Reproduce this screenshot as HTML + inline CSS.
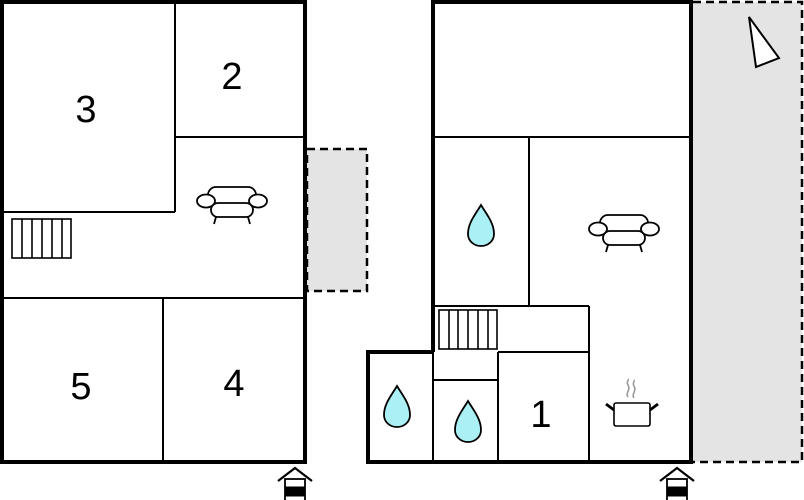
<!DOCTYPE html>
<html><head><style>html,body{margin:0;padding:0;background:#fff}svg{display:block}</style></head>
<body>
<svg width="804" height="500" viewBox="0 0 804 500" xmlns="http://www.w3.org/2000/svg" font-family="Liberation Sans, sans-serif">
<defs>
<g id="sofa" fill="#fff" stroke="#000" stroke-width="1.8">
<rect x="-24" y="-15" width="48" height="20" rx="8"/>
<rect x="-21" y="1" width="42" height="14" rx="7"/>
<ellipse cx="-26" cy="-1" rx="9" ry="6.5"/>
<ellipse cx="26" cy="-1" rx="9" ry="6.5"/>
<line x1="-16" y1="15" x2="-18" y2="22"/><line x1="16" y1="15" x2="18" y2="22"/>
</g>
<path id="drop" d="M0,-22 C-6,-12 -13,-4 -13,7 C-13,14 -7,19 0,19 C7,19 13,14 13,7 C13,-4 6,-12 0,-22Z" fill="#aaf0f4" stroke="#000" stroke-width="1.8"/>
<g id="ent" stroke="#000" fill="#fff">
<polyline points="-17,-3 0,-16 17,-3" fill="none" stroke-width="2.2"/>
<rect x="-10" y="-5" width="20" height="24" stroke-width="1.8"/>
<rect x="-10" y="3" width="20" height="9" fill="#000"/>
</g>
</defs>

<!-- left building -->
<rect x="307" y="149" width="60" height="142" fill="#e4e4e4" stroke="#000" stroke-width="2.5" stroke-dasharray="8,5"/>
<g stroke="#000" fill="none" stroke-width="2">
<line x1="175" y1="2" x2="175" y2="212"/>
<line x1="2" y1="212" x2="175" y2="212"/>
<line x1="175" y1="137" x2="305" y2="137"/>
<line x1="2" y1="298" x2="305" y2="298"/>
<line x1="163" y1="298" x2="163" y2="462"/>
</g>
<rect x="2" y="2" width="303" height="460" fill="none" stroke="#000" stroke-width="4"/>
<g stroke="#000" fill="none" stroke-width="1.6">
<rect x="12" y="219" width="59" height="39"/>
<line x1="22" y1="219" x2="22" y2="258"/><line x1="32" y1="219" x2="32" y2="258"/><line x1="42" y1="219" x2="42" y2="258"/><line x1="52" y1="219" x2="52" y2="258"/><line x1="62" y1="219" x2="62" y2="258"/>
</g>
<use href="#sofa" x="232" y="202"/>
<g font-size="38" text-anchor="middle" fill="#000">
<text x="86" y="122">3</text>
<text x="232" y="89">2</text>
<text x="81" y="399">5</text>
<text x="234" y="396">4</text>
<text x="541" y="427">1</text>
</g>
<use href="#ent" x="295" y="484"/>

<!-- right building -->
<rect x="693" y="2" width="109" height="460" fill="#e4e4e4"/>
<polyline points="693,2 802,2 802,462 693,462" fill="none" stroke="#000" stroke-width="2.5" stroke-dasharray="8,5"/>
<polygon points="749,17 756,67 779,58" fill="#fff" stroke="#000" stroke-width="2"/>
<g stroke="#000" fill="none" stroke-width="2">
<line x1="433" y1="137" x2="691" y2="137"/>
<line x1="529" y1="137" x2="529" y2="306"/>
<line x1="433" y1="306" x2="589" y2="306"/>
<line x1="589" y1="306" x2="589" y2="462"/>
<line x1="498" y1="352" x2="589" y2="352"/>
<line x1="498" y1="352" x2="498" y2="462"/>
<line x1="433" y1="380" x2="498" y2="380"/>
<line x1="433" y1="352" x2="433" y2="462"/>
</g>
<polyline points="433,352 433,2 691,2 691,462 368,462 368,352 433,352" fill="none" stroke="#000" stroke-width="4"/>
<g stroke="#000" fill="none" stroke-width="1.6">
<rect x="439" y="310" width="58" height="39"/>
<line x1="449" y1="310" x2="449" y2="349"/><line x1="458" y1="310" x2="458" y2="349"/><line x1="468" y1="310" x2="468" y2="349"/><line x1="478" y1="310" x2="478" y2="349"/><line x1="488" y1="310" x2="488" y2="349"/>
</g>
<use href="#drop" x="481" y="227"/>
<use href="#drop" x="397" y="408"/>
<use href="#drop" x="468" y="423"/>
<use href="#sofa" x="624" y="230"/>
<g stroke="#000" fill="#fff" stroke-width="1.6">
<rect x="614" y="403" width="36" height="23" rx="2"/>
<line x1="614" y1="410" x2="606" y2="404" stroke-width="2.8"/>
<line x1="650" y1="410" x2="658" y2="404" stroke-width="2.8"/>
</g>
<path d="M628,397 c-3,-4 3,-7 0,-12 c-2,-3 1,-5 0,-6 M634,398 c-3,-4 3,-7 0,-12 c-2,-3 1,-5 0,-6" stroke="#999" fill="none" stroke-width="1.6"/>
<use href="#ent" x="677" y="484"/>
</svg>
</body></html>
